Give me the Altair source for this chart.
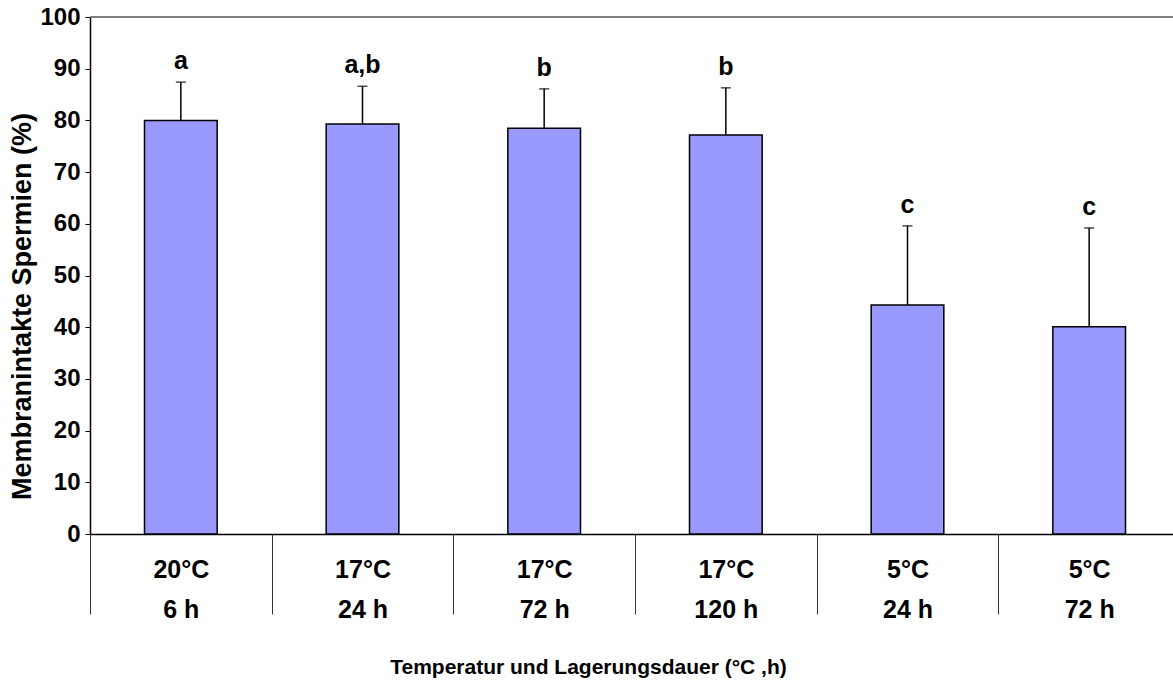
import altair as alt
import pandas as pd

# Storage groups: temperature line and duration line of each x label
temperatures = ["20°C", "17°C", "17°C", "17°C", "5°C", "5°C"]
durations = ["6 h", "24 h", "72 h", "120 h", "24 h", "72 h"]
# Mean share of membrane-intact sperm (%) and upper end of the error bar
means = [80.0, 79.3, 78.5, 77.2, 44.3, 40.1]
uppers = [87.4, 86.6, 86.1, 86.3, 59.6, 59.2]
# Significance letters
letters = ["a", "a,b", "b", "b", "c", "c"]

groups = [f"{t}|{d}" for t, d in zip(temperatures, durations)]
df = pd.DataFrame({"group": groups, "mean": means, "upper": uppers, "letter": letters})

FONT = "Liberation Sans"
STEP_RANGE = 1090  # band range of the category axis (runs slightly past the view)

x_enc = alt.X(
    "group:N",
    sort=groups,
    scale=alt.Scale(range=[0, STEP_RANGE], paddingInner=0, paddingOuter=0),
    axis=alt.Axis(
        title="Temperatur und Lagerungsdauer (°C ,h)",
        titleFont=FONT,
        titleFontSize=21,
        titleFontWeight="bold",
        titleColor="black",
        titleX=498,
        titleY=133,
        titleAlign="center",
        titleBaseline="middle",
        labelExpr="split(datum.label, '|')",
        labelFont=FONT,
        labelFontSize=25,
        labelFontWeight="bold",
        labelColor="black",
        labelAngle=0,
        labelLineHeight=40,
        labelBaseline="top",
        labelPadding=-57,
        tickBand="extent",
        tickSize=80,
        tickColor="#333333",
        tickWidth=1,
        domainColor="black",
        domainWidth=1.5,
    ),
)

y_scale = alt.Scale(domain=[0, 100], nice=False)

bars = alt.Chart(df).mark_bar(
    color="#9999FF", stroke="black", strokeWidth=1.5, width=alt.RelativeBandSize(0.4)
).encode(
    x=x_enc,
    y=alt.Y(
        "mean:Q",
        scale=y_scale,
        axis=alt.Axis(
            title="Membranintakte Spermien (%)",
            titleFont=FONT,
            titleFontSize=27,
            titleFontWeight="bold",
            titleColor="black",
            titleAngle=270,
            titleX=-68,
            titleY=289,
            titleAlign="center",
            titleBaseline="middle",
            values=list(range(0, 101, 10)),
            labelFont=FONT,
            labelFontSize=24,
            labelFontWeight="bold",
            labelColor="black",
            labelPadding=5,
            tickSize=5,
            tickColor="black",
            tickWidth=1,
            domainColor="black",
            domainWidth=1.5,
            grid=False,
        ),
    ),
)

err_line = alt.Chart(df).mark_rule(color="black", strokeWidth=1.5).encode(
    x=alt.X("group:N", sort=groups),
    y=alt.Y("mean:Q", scale=y_scale),
    y2="upper:Q",
)

err_cap = alt.Chart(df).mark_tick(color="black", size=10, thickness=1.5).encode(
    x=alt.X("group:N", sort=groups),
    y=alt.Y("upper:Q", scale=y_scale),
)

labels = alt.Chart(df).mark_text(
    font=FONT, fontSize=25, fontWeight="bold", color="black", baseline="bottom", dy=-8
).encode(
    x=alt.X("group:N", sort=groups),
    y=alt.Y("upper:Q", scale=y_scale),
    text="letter:N",
)

# Gray frame line along the top of the plot area
top_line = alt.Chart(df).mark_rule(color="#808080", strokeWidth=2).encode(
    x=alt.value(0), x2=alt.value(STEP_RANGE), y=alt.value(0)
)

chart = (
    alt.layer(top_line, bars, err_line, err_cap, labels)
    .properties(
        width=1083,
        height=517,
        autosize=alt.AutoSizeParams(type="none"),
        padding={"left": 90, "top": 17, "right": 0, "bottom": 149},
        background="white",
    )
    .configure_view(stroke=None)
)

chart.save("out.html", embed_options={"renderer": "svg", "actions": False})
